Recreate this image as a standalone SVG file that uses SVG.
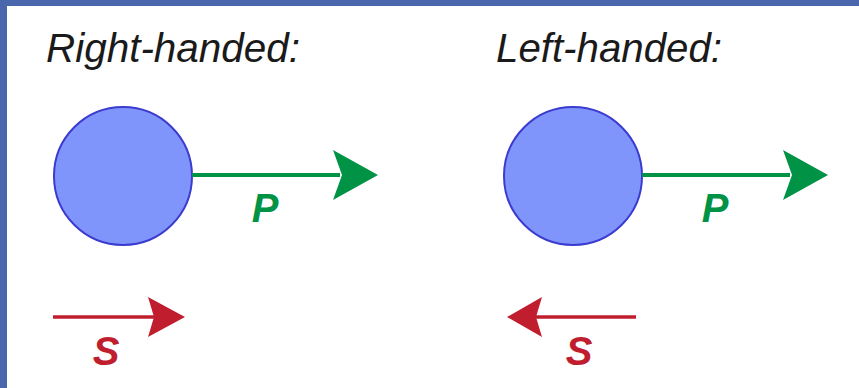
<svg xmlns="http://www.w3.org/2000/svg" width="859" height="388" viewBox="0 0 859 388">
<style>
.title{font-family:"Liberation Sans",Arial,sans-serif;font-style:italic;font-size:40px;fill:#1a1a1a}
.lbl{font-family:"Liberation Sans",Arial,sans-serif;font-style:italic;font-weight:bold;font-size:40px;text-anchor:middle}
.ball{fill:#7f95fb;stroke:#3b3bd0;stroke-width:2}
.p{stroke:#009345;stroke-width:4;fill:none}
.s{stroke:#c01e2e;stroke-width:3.5;fill:none}
</style>
<rect x="0" y="0" width="859" height="388" fill="#ffffff"/>
<rect x="0" y="0" width="859" height="6" fill="#4a66ad"/>
<rect x="0" y="0" width="7" height="388" fill="#4a66ad"/>
<g id="right-handed">
  <text class="title" x="46" y="62" textLength="254" lengthAdjust="spacingAndGlyphs">Right-handed:</text>
</g>
<g id="left-handed">
  <text class="title" x="496" y="62" textLength="226" lengthAdjust="spacingAndGlyphs">Left-handed:</text>
</g>
<g id="ball-right">
  <circle class="ball" cx="123" cy="176" r="69"/>
</g>
<g id="ball-left">
  <circle class="ball" cx="573" cy="176" r="69"/>
</g>
<g id="connectors">
  <line class="p" x1="192" y1="175" x2="340" y2="175"/>
  <polygon points="333,150 378,175 333,200 342,175" fill="#009345"/>
  <line class="p" x1="642" y1="175" x2="790" y2="175"/>
  <polygon points="783,150 828,175 783,200 792,175" fill="#009345"/>
  <line class="s" x1="53" y1="317" x2="155" y2="317"/>
  <polygon points="148,297 185,317 148,337 154,317" fill="#c01e2e"/>
  <line class="s" x1="636" y1="317" x2="536" y2="317"/>
  <polygon points="542,297 507,317 542,337 536,317" fill="#c01e2e"/>
</g>
<g id="labels">
  <text class="lbl" x="265" y="222" fill="#009345">P</text>
  <text class="lbl" x="715" y="222" fill="#009345">P</text>
  <text class="lbl" x="106" y="365" fill="#c01e2e">S</text>
  <text class="lbl" x="579" y="365" fill="#c01e2e">S</text>
</g>
</svg>
